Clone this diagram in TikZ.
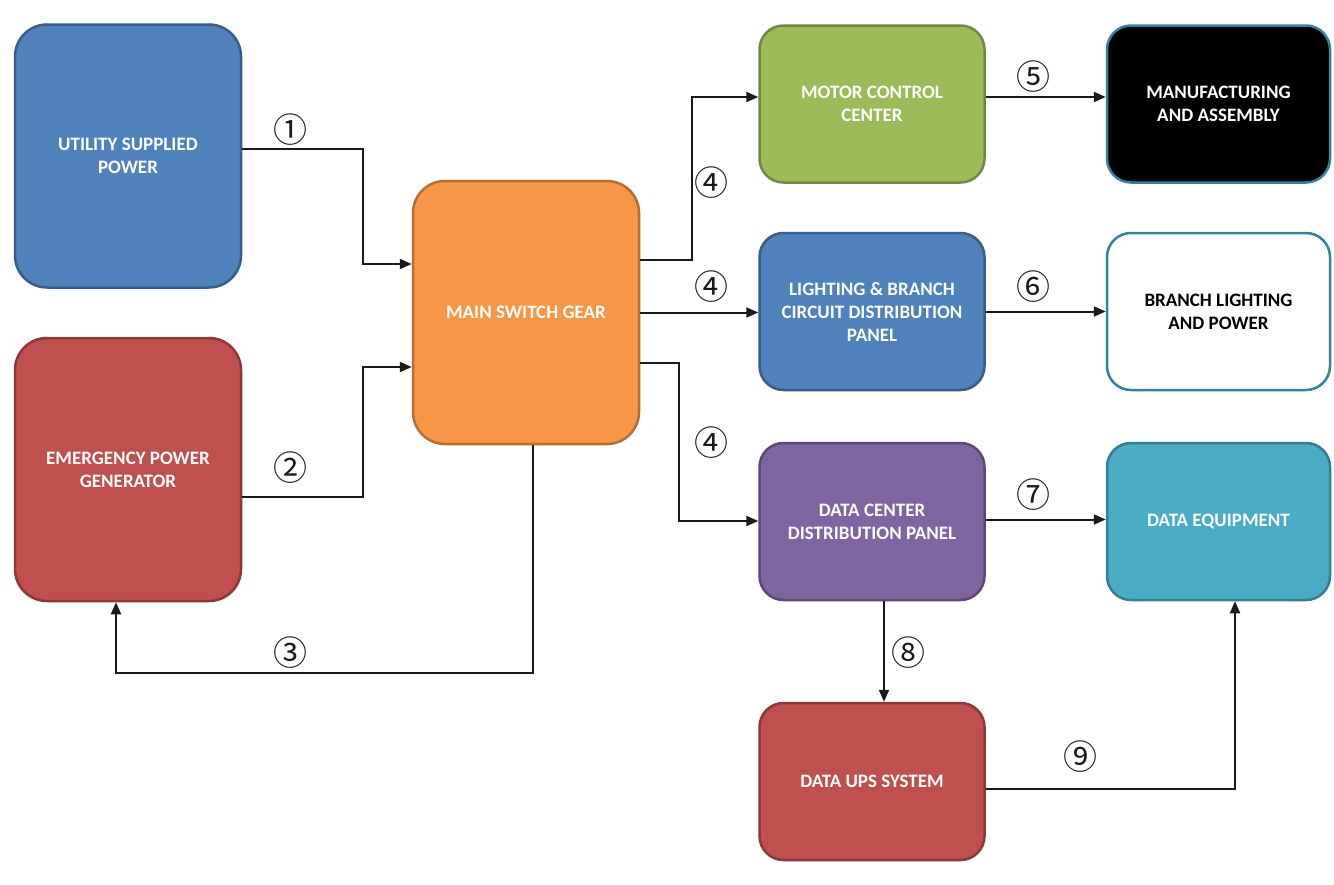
\documentclass[tikz,border=0pt]{standalone}
\usepackage{fontspec}
\setmainfont{Carlito}
\newfontfamily\circfont{Noto Sans CJK JP}
\usetikzlibrary{arrows.meta}
\definecolor{ublue}{HTML}{4F81BD}
\definecolor{ubluedk}{HTML}{385D8A}
\definecolor{uorange}{HTML}{F79646}
\definecolor{uorangedk}{HTML}{B66D31}
\definecolor{ured}{HTML}{C0504D}
\definecolor{ureddk}{HTML}{8C3836}
\definecolor{ugreen}{HTML}{9BBB59}
\definecolor{ugreendk}{HTML}{71893F}
\definecolor{upurple}{HTML}{8064A2}
\definecolor{upurpledk}{HTML}{5C4776}
\definecolor{uaqua}{HTML}{4BACC6}
\definecolor{uaquadk}{HTML}{357D91}
\definecolor{uteal}{HTML}{31849B}
\definecolor{uline}{HTML}{1A1A1A}
\begin{document}
\begin{tikzpicture}[x=1pt,y=-1pt,
  box/.style={draw, rounded corners=#1, line width=2.5pt, align=center,
    font=\bfseries\fontsize{19}{23}\selectfont, text=white, inner sep=0pt},
  box/.default=26pt,
  tall/.style={box=32pt, minimum width=226pt, minimum height=263pt},
  short/.style={box=24pt, minimum width=225pt, minimum height=157pt},
  arr/.style={draw=uline, line width=2pt, -{Triangle[length=12pt,width=10pt]}},
  num/.style={font=\circfont\fontsize{34}{34}\selectfont, text=uline, inner sep=0pt}]
\useasboundingbox (0,0) rectangle (1334,884);
\fill[white] (0,0) rectangle (1334,884);

% boxes
\node[tall, fill=ublue, draw=ubluedk] (util) at (128,156) {UTILITY SUPPLIED\\POWER};
\node[tall, fill=ured, draw=ureddk] (emerg) at (128,469.5) {EMERGENCY POWER\\GENERATOR};
\node[tall, fill=uorange, draw=uorangedk] (main) at (526,312.5) {MAIN SWITCH GEAR};
\node[short, fill=ugreen, draw=ugreendk] (mcc) at (872,104) {MOTOR CONTROL\\CENTER};
\node[short, fill=black, draw=uteal, minimum width=223pt] (manu) at (1218.5,104) {MANUFACTURING\\AND ASSEMBLY};
\node[short, fill=ublue, draw=ubluedk] (lbc) at (872,311.5) {LIGHTING \& BRANCH\\CIRCUIT DISTRIBUTION\\PANEL};
\node[short, fill=white, draw=uteal, text=black, minimum width=223pt] (branch) at (1218.5,311.5) {BRANCH LIGHTING\\AND POWER};
\node[short, fill=upurple, draw=upurpledk] (dcdp) at (872,521.5) {DATA CENTER\\DISTRIBUTION PANEL};
\node[short, fill=uaqua, draw=uaquadk, minimum width=223pt] (dataeq) at (1218.5,521.5) {DATA EQUIPMENT};
\node[short, fill=ured, draw=ureddk] (ups) at (872,781.5) {DATA UPS SYSTEM};

% bend points
\coordinate (c1) at (363,264);
\coordinate (c2) at (363,367);
\coordinate (c3) at (116,673);
\coordinate (c4) at (692,97);
\coordinate (c5) at (679,521);
\coordinate (c9) at (1235,789);

% connectors
\draw[arr] ([yshift=7pt]util.east) -| (c1) -- (main.west |- c1);
\draw[arr] ([yshift=-27.5pt]emerg.east) -| (c2) -- (main.west |- c2);
\draw[arr] ([xshift=7pt]main.south) |- (c3) -- (emerg.south -| c3);
\draw[arr] ([yshift=52.5pt]main.east) -| (c4) -- (mcc.west |- c4);
\draw[arr] (main.east) -- (lbc.west |- main.east);
\draw[arr] ([yshift=-50.5pt]main.east) -| (c5) -- (dcdp.west |- c5);
\draw[arr] (mcc.east |- c4) -- (manu.west |- c4);
\draw[arr] (lbc.east) -- (branch.west);
\draw[arr] ([yshift=2pt]dcdp.east) -- ([yshift=2pt]dataeq.west);
\draw[arr] ([xshift=12pt]dcdp.south) -- ([xshift=12pt]ups.north);
\draw[arr] ([yshift=-7.5pt]ups.east) -| (dataeq.south -| c9);

% labels
\node[num] (n1) at (290,130) {①};
\node[num] (n2) at (290,468) {②};
\node[num] (n3) at (290,653) {③};
\node[num] (n4a) at (711,183) {④};
\node[num] (n4b) at (711,287) {④};
\node[num] (n4c) at (711,443) {④};
\node[num] (n5) at (1033,77) {⑤};
\node[num] (n6) at (1033,287) {⑥};
\node[num] (n7) at (1033,495) {⑦};
\node[num] (n8) at (908,653) {⑧};
\node[num] (n9) at (1080,757) {⑨};
\end{tikzpicture}
\end{document}
